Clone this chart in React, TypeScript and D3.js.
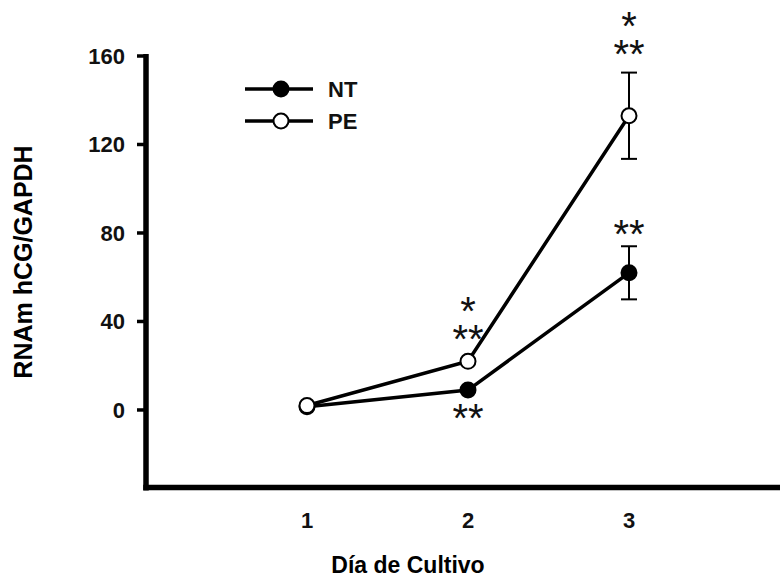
import React from "react";
import * as d3 from "d3";

// Culture day on the x axis
const days = [1, 2, 3];
const xTicks = [1, 2, 3];
const yTicks = [0, 40, 80, 120, 160];

// hCG mRNA normalised to GAPDH (mean ± SEM)
const ntMean = [1.5, 9, 62];
const ntErr = [0, 0, 12];
const peMean = [2, 22, 133];
const peErr = [0, 0, 19.5];

// significance marks: series, day, stacked lines, offset of first line centre from the point (px)
const sigMarks = [
  { series: "PE", day: 2, lines: ["*", "**"], dy: -56 },
  { series: "NT", day: 2, lines: ["**"], dy: 22 },
  { series: "PE", day: 3, lines: ["*", "**"], dy: -96 },
  { series: "NT", day: 3, lines: ["**"], dy: -45 },
];

const legendItems = [
  { label: "NT", filled: true },
  { label: "PE", filled: false },
];

const W = 780;
const H = 583;
const FONT = "'Liberation Sans', Arial, Helvetica, sans-serif";

export default function App() {
  const x = d3.scaleLinear().domain([0, 4]).range([146, 790]);
  const y = d3.scaleLinear().domain([-35, 160]).range([487.4, 56]);

  const line = d3
    .line<number>()
    .x((_, i) => x(days[i]))
    .y((d) => y(d));

  const axisX = x(0);
  const axisY = y(-35);
  const R = 7.5;

  const seriesVal = (s: string, i: number) =>
    s === "PE" ? peMean[i] : ntMean[i];

  // asterisk glyphs sit high in the em box; shift baseline so the glyph centre lands on target
  const starSize = 40;
  const starShift = 0.5 * starSize;
  const starGap = 28;

  return (
    <svg
      width={W}
      height={H}
      style={{ position: "absolute", left: 0, top: 0, background: "#fff" }}
      fontFamily={FONT}
    >
      {/* axes */}
      <line x1={axisX} y1={y(160) - 2} x2={axisX} y2={axisY + 3} stroke="#000" strokeWidth={5.5} />
      <line x1={axisX - 2.75} y1={axisY} x2={790} y2={axisY} stroke="#000" strokeWidth={5.5} />
      {yTicks.map((t) => (
        <g key={t}>
          <line x1={axisX - 9} x2={axisX} y1={y(t)} y2={y(t)} stroke="#000" strokeWidth={3.5} />
          <text
            x={125}
            y={y(t)}
            dy="0.36em"
            textAnchor="end"
            fontSize={22}
            fontWeight="bold"
            fill="#111"
          >
            {t}
          </text>
        </g>
      ))}
      {xTicks.map((t) => (
        <text
          key={t}
          x={x(t)}
          y={528}
          textAnchor="middle"
          fontSize={22}
          fontWeight="bold"
          fill="#111"
        >
          {t}
        </text>
      ))}
      <text x={408} y={573} textAnchor="middle" fontSize={23} fontWeight="bold" fill="#000">
        Día de Cultivo
      </text>
      <text
        transform={`translate(32,262) rotate(-90)`}
        textAnchor="middle"
        fontSize={25}
        fontWeight="bold"
        fill="#000"
      >
        RNAm hCG/GAPDH
      </text>

      {/* error bars */}
      {[
        { mean: ntMean, err: ntErr },
        { mean: peMean, err: peErr },
      ].map((s, si) =>
        days.map((d, i) =>
          s.err[i] > 0 ? (
            <g key={`${si}-${i}`} stroke="#000" strokeWidth={2}>
              <line x1={x(d)} x2={x(d)} y1={y(s.mean[i] + s.err[i])} y2={y(s.mean[i] - s.err[i])} />
              <line x1={x(d) - 8} x2={x(d) + 8} y1={y(s.mean[i] + s.err[i])} y2={y(s.mean[i] + s.err[i])} />
              <line x1={x(d) - 8} x2={x(d) + 8} y1={y(s.mean[i] - s.err[i])} y2={y(s.mean[i] - s.err[i])} />
            </g>
          ) : null
        )
      )}

      {/* series lines */}
      <path d={line(ntMean) || ""} fill="none" stroke="#000" strokeWidth={3.5} />
      <path d={line(peMean) || ""} fill="none" stroke="#000" strokeWidth={3.5} />

      {/* markers */}
      {days.map((d, i) => (
        <circle key={`nt${i}`} cx={x(d)} cy={y(ntMean[i])} r={R} fill="#000" stroke="#000" strokeWidth={2} />
      ))}
      {days.map((d, i) => (
        <circle key={`pe${i}`} cx={x(d)} cy={y(peMean[i])} r={R} fill="#fff" stroke="#000" strokeWidth={2} />
      ))}

      {/* significance asterisks */}
      {sigMarks.map((m, k) => {
        const i = days.indexOf(m.day);
        const cy = y(seriesVal(m.series, i)) + m.dy;
        return (
          <text key={k} textAnchor="middle" fontSize={starSize} fill="#111">
            {m.lines.map((t, j) => (
              <tspan key={j} x={x(m.day)} y={cy + j * starGap + starShift}>
                {t}
              </tspan>
            ))}
          </text>
        );
      })}

      {/* legend */}
      {legendItems.map((l, k) => {
        const ly = 89 + k * 32;
        return (
          <g key={l.label}>
            <line x1={245} x2={313} y1={ly} y2={ly} stroke="#000" strokeWidth={3.5} />
            <circle cx={281} cy={ly} r={R} fill={l.filled ? "#000" : "#fff"} stroke="#000" strokeWidth={2} />
            <text x={328} y={ly} dy="0.36em" fontSize={22} fontWeight="bold" fill="#111">
              {l.label}
            </text>
          </g>
        );
      })}
    </svg>
  );
}
